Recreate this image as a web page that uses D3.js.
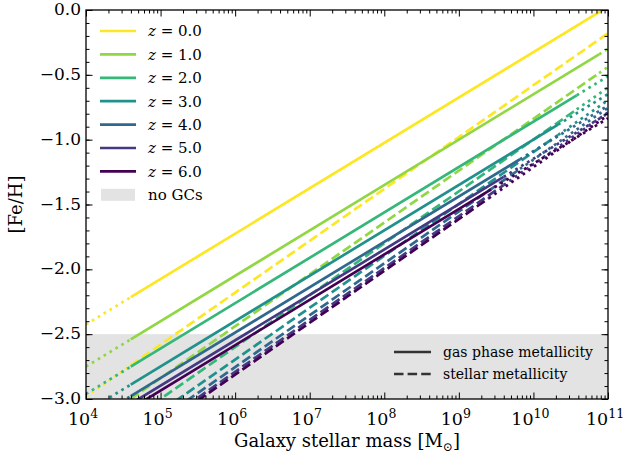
<!DOCTYPE html>
<html>
<head>
<meta charset="utf-8">
<script src="https://cdn.jsdelivr.net/npm/d3@7"></script>
<style>
  html, body { margin: 0; padding: 0; background: #fff; }
  svg { display: block; }
  text { font-family: "DejaVu Serif", serif; fill: #000; }
</style>
</head>
<body>
<svg id="chart" width="627" height="454"></svg>
<script>
// ---------------- data ----------------
const redshifts = [0, 1, 2, 3, 4, 5, 6];
// log10 stellar mass break points for each redshift: [axis start, solid start, solid end, axis end]
const logMassBreaks = [
  [4, 4.6, 11.0, 11],
  [4, 4.6, 10.88, 11],
  [4, 4.6, 10.58, 11],
  [4, 4.6, 10.33, 11],
  [4, 4.6, 9.82, 11],
  [4, 4.6, 9.6, 11],
  [4, 4.6, 9.4, 11]
];
// gas phase [Fe/H] at the break points
const gasFeH = [
  [-2.425, -2.215, 0.025, 0.025],
  [-2.750, -2.540, -0.342, -0.300],
  [-2.961, -2.751, -0.658, -0.511],
  [-3.099, -2.889, -0.884, -0.649],
  [-3.188, -2.978, -1.151, -0.738],
  [-3.247, -3.037, -1.287, -0.797],
  [-3.285, -3.075, -1.395, -0.835]
];
// stellar [Fe/H] at the break points
const stellarFeH = [
  [-2.980, -2.740, -0.180, -0.180],
  [-3.239, -2.999, -0.487, -0.439],
  [-3.399, -3.159, -0.767, -0.599],
  [-3.496, -3.256, -0.964, -0.696],
  [-3.554, -3.314, -1.226, -0.754],
  [-3.590, -3.350, -1.350, -0.790],
  [-3.612, -3.372, -1.452, -0.812]
];
const noGCsRange = [-3.0, -2.5];
const xDomain = [1e4, 1e11];
const yDomain = [-3.0, 0.0];
const xTickExponents = [4, 5, 6, 7, 8, 9, 10, 11];
const yTickValues = [0.0, -0.5, -1.0, -1.5, -2.0, -2.5, -3.0];
const legendLabels = redshifts.map(z => z.toFixed(1));
const styleLegendLabels = ["gas phase metallicity", "stellar metallicity"];

// ---------------- layout ----------------
const svg = d3.select("#chart");
const L = 86, R = 608, T = 10, B = 399;
const x = d3.scaleLog().domain(xDomain).range([L, R]);
const y = d3.scaleLinear().domain(yDomain).range([B, T]);
const color = z => d3.interpolateViridis(1 - z / 6);
const LW = 2.7;
const DASH = "9.5,4.1";
const DOT = "2.7,4.2";

svg.append("clipPath").attr("id", "clip")
  .append("rect").attr("x", L).attr("y", T).attr("width", R - L).attr("height", B - T);

// no-GC band
svg.append("rect")
  .attr("x", L).attr("width", R - L)
  .attr("y", y(noGCsRange[1])).attr("height", y(noGCsRange[0]) - y(noGCsRange[1]))
  .attr("fill", "#e3e3e3");

const g = svg.append("g").attr("clip-path", "url(#clip)");
const line = d3.line().x(d => x(Math.pow(10, d[0]))).y(d => y(d[1]));

redshifts.forEach((z, i) => {
  const br = logMassBreaks[i];
  [[gasFeH[i], null], [stellarFeH[i], DASH]].forEach(([vals, dash]) => {
    const pts = br.map((m, k) => [m, vals[k]]);
    g.append("path").attr("d", line([pts[0], pts[1]]))
      .attr("fill", "none").attr("stroke", color(z)).attr("stroke-width", LW)
      .attr("stroke-dasharray", DOT);
    const main = g.append("path").attr("d", line([pts[1], pts[2]]))
      .attr("fill", "none").attr("stroke", color(z)).attr("stroke-width", LW);
    if (dash) main.attr("stroke-dasharray", dash);
    if (br[2] < br[3]) {
      g.append("path").attr("d", line([pts[2], pts[3]]))
        .attr("fill", "none").attr("stroke", color(z)).attr("stroke-width", LW)
        .attr("stroke-dasharray", DOT);
    }
  });
});

// ---------------- axes ----------------
const majorX = xTickExponents.map(e => Math.pow(10, e));
const minorX = [];
for (let e = 4; e < 11; e++) for (let k = 2; k <= 9; k++) minorX.push(k * Math.pow(10, e));
const minorY = d3.range(-30, 1).map(v => v / 10);

function ticks(gen, vals, size) {
  return gen.tickValues(vals).tickSize(size).tickFormat("").tickSizeOuter(0);
}
const axStyle = sel => {
  sel.select(".domain").remove();
  sel.selectAll("line").attr("stroke", "#000").attr("stroke-width", 1);
};
svg.append("g").attr("transform", `translate(0,${B})`).call(ticks(d3.axisBottom(x), minorX, -3.5)).call(axStyle);
svg.append("g").attr("transform", `translate(0,${B})`).call(ticks(d3.axisBottom(x), majorX, -6.5)).call(axStyle);
svg.append("g").attr("transform", `translate(0,${T})`).call(ticks(d3.axisTop(x), minorX, -3.5)).call(axStyle);
svg.append("g").attr("transform", `translate(0,${T})`).call(ticks(d3.axisTop(x), majorX, -6.5)).call(axStyle);
svg.append("g").attr("transform", `translate(${L},0)`).call(ticks(d3.axisLeft(y), minorY, -3.5)).call(axStyle);
svg.append("g").attr("transform", `translate(${L},0)`).call(ticks(d3.axisLeft(y), yTickValues, -6.5)).call(axStyle);
svg.append("g").attr("transform", `translate(${R},0)`).call(ticks(d3.axisRight(y), minorY, -3.5)).call(axStyle);
svg.append("g").attr("transform", `translate(${R},0)`).call(ticks(d3.axisRight(y), yTickValues, -6.5)).call(axStyle);

svg.append("rect").attr("x", L).attr("y", T).attr("width", R - L).attr("height", B - T)
  .attr("fill", "none").attr("stroke", "#000").attr("stroke-width", 1.3);

// y tick labels
const fmt = d3.format(".1f");
svg.append("g").selectAll("text").data(yTickValues).join("text")
  .attr("x", L - 5).attr("y", d => y(d)).attr("dy", "0.3em")
  .attr("text-anchor", "end").attr("font-size", 17)
  .text(d => fmt(d));

// x tick labels
const xl = svg.append("g").selectAll("text").data(xTickExponents).join("text")
  .attr("x", d => x(Math.pow(10, d)) - 3).attr("y", 424.5)
  .attr("text-anchor", "middle").attr("font-size", 17.5);
xl.append("tspan").text("10");
xl.append("tspan").attr("dy", -7).attr("font-size", 12.5).text(d => d);

// axis labels
const xlab = svg.append("text").attr("x", (L + R) / 2).attr("y", 447)
  .attr("text-anchor", "middle").attr("font-size", 18);
xlab.append("tspan").text("Galaxy stellar mass [M");
xlab.append("tspan").attr("dy", 4).attr("font-size", 12).text("⊙");
xlab.append("tspan").attr("dy", -4).text("]");

svg.append("text").attr("transform", `translate(22,${(T + B) / 2}) rotate(-90)`)
  .attr("text-anchor", "middle").attr("font-size", 18).text("[Fe/H]");

// ---------------- legends ----------------
const legY0 = 31, legDY = 23.4;
const leg = svg.append("g");
redshifts.forEach((z, i) => {
  const yy = legY0 + i * legDY;
  leg.append("line").attr("x1", 100).attr("x2", 136).attr("y1", yy).attr("y2", yy)
    .attr("stroke", color(z)).attr("stroke-width", LW);
  const t = leg.append("text").attr("x", 148).attr("y", yy).attr("dy", "0.36em").attr("font-size", 15);
  t.append("tspan").attr("font-style", "italic").text("z");
  t.append("tspan").text(" = " + legendLabels[i]);
});
{
  const yy = legY0 + 7 * legDY;
  leg.append("rect").attr("x", 101).attr("y", yy - 6).attr("width", 34).attr("height", 12).attr("fill", "#e3e3e3");
  leg.append("text").attr("x", 148).attr("y", yy).attr("dy", "0.36em").attr("font-size", 15).text("no GCs");
}
const leg2 = svg.append("g");
styleLegendLabels.forEach((lab, i) => {
  const yy = 352 + i * 22;
  const ln = leg2.append("line").attr("x1", 394).attr("x2", 431).attr("y1", yy).attr("y2", yy)
    .attr("stroke", "#333").attr("stroke-width", LW);
  if (i === 1) ln.attr("stroke-dasharray", DASH);
  leg2.append("text").attr("x", 443).attr("y", yy).attr("dy", "0.36em").attr("font-size", 14).text(lab);
});
</script>
</body>
</html>
